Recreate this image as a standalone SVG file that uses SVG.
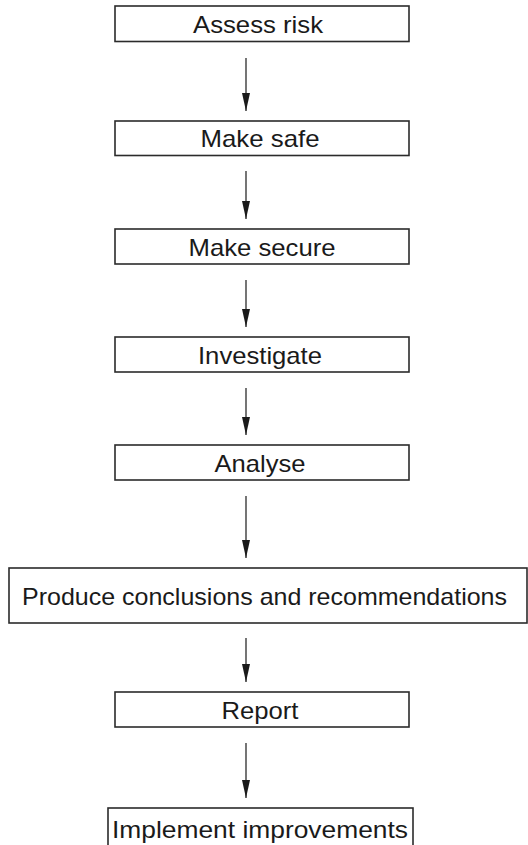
<svg xmlns="http://www.w3.org/2000/svg" width="528" height="845" viewBox="0 0 528 845">
<style>
.box{fill:#fff;stroke:#2b2b2b;stroke-width:1.6}
.lbl{font-family:"Liberation Sans",Arial,sans-serif;font-size:24px;fill:#1a1a1a;text-anchor:middle}
.conn{stroke:#1a1a1a;stroke-width:1.2;fill:none}
</style>
<defs>
<marker id="ah" markerWidth="18" markerHeight="8" refX="18" refY="4" orient="auto" markerUnits="userSpaceOnUse" viewBox="0 0 18 8">
<path d="M0,0 L18,4 L0,8 Z" fill="#1a1a1a"/>
</marker>
</defs>
<rect width="528" height="845" fill="#fff"/>
<g id="connectors">
<line class="conn" x1="246" y1="58" x2="246" y2="111" marker-end="url(#ah)"/>
<line class="conn" x1="246" y1="171" x2="246" y2="219" marker-end="url(#ah)"/>
<line class="conn" x1="246" y1="280" x2="246" y2="327" marker-end="url(#ah)"/>
<line class="conn" x1="246" y1="388" x2="246" y2="435" marker-end="url(#ah)"/>
<line class="conn" x1="246" y1="496" x2="246" y2="558" marker-end="url(#ah)"/>
<line class="conn" x1="246" y1="638" x2="246" y2="682" marker-end="url(#ah)"/>
<line class="conn" x1="246" y1="743" x2="246" y2="798" marker-end="url(#ah)"/>
</g>
<g id="n1"><rect class="box" x="115" y="6" width="294" height="35.5"/><text class="lbl" x="258" y="33" textLength="130" lengthAdjust="spacingAndGlyphs">Assess risk</text></g>
<g id="n2"><rect class="box" x="115" y="121" width="294" height="34.5"/><text class="lbl" x="260" y="147" textLength="119" lengthAdjust="spacingAndGlyphs">Make safe</text></g>
<g id="n3"><rect class="box" x="115" y="229" width="294" height="35"/><text class="lbl" x="262" y="256" textLength="147" lengthAdjust="spacingAndGlyphs">Make secure</text></g>
<g id="n4"><rect class="box" x="115" y="337" width="294" height="35"/><text class="lbl" x="260" y="364" textLength="124" lengthAdjust="spacingAndGlyphs">Investigate</text></g>
<g id="n5"><rect class="box" x="115" y="445" width="294" height="35"/><text class="lbl" x="260" y="472" textLength="91" lengthAdjust="spacingAndGlyphs">Analyse</text></g>
<g id="n6"><rect class="box" x="9" y="568" width="518" height="55"/><text class="lbl" x="264.5" y="605" textLength="485" lengthAdjust="spacingAndGlyphs">Produce conclusions and recommendations</text></g>
<g id="n7"><rect class="box" x="115" y="692" width="294" height="35"/><text class="lbl" x="260" y="719" textLength="77" lengthAdjust="spacingAndGlyphs">Report</text></g>
<g id="n8"><rect class="box" x="108" y="808" width="305" height="40"/><text class="lbl" x="260" y="838" textLength="296" lengthAdjust="spacingAndGlyphs">Implement improvements</text></g>
</svg>
